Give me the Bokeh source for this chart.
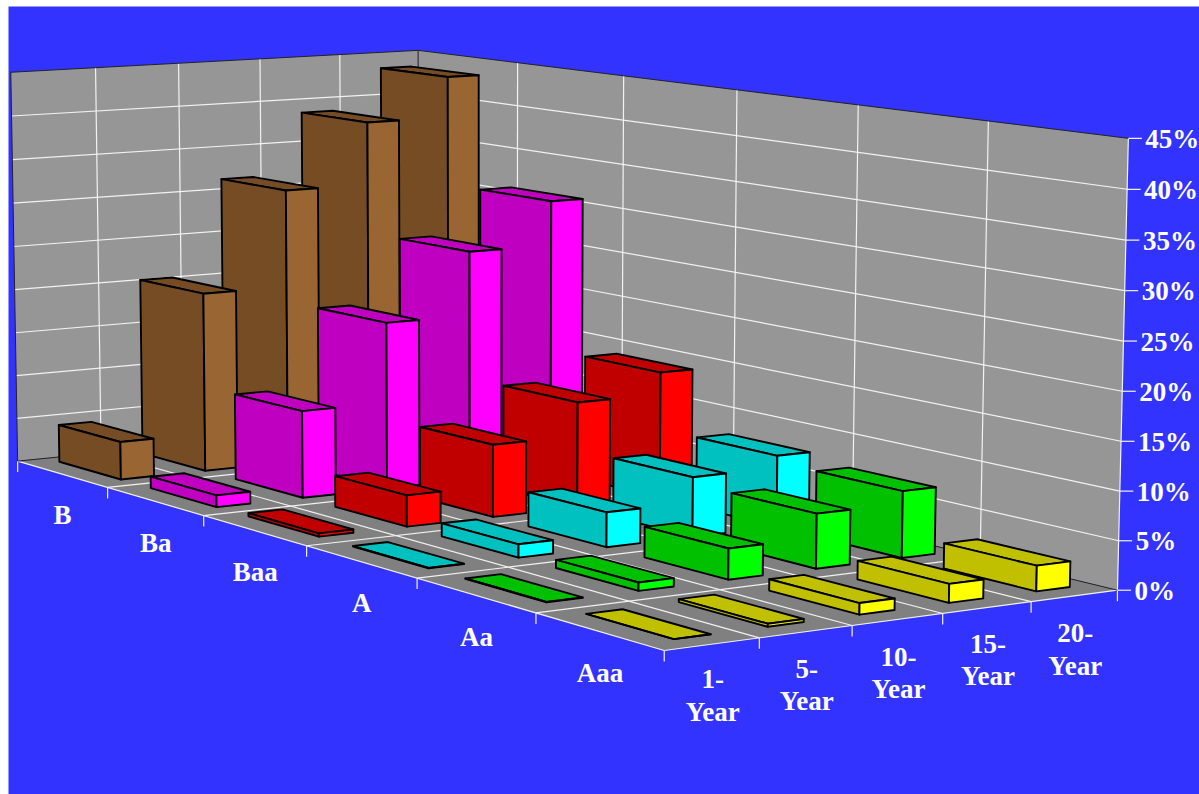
import numpy as np
from bokeh.core.properties import value
from bokeh.embed import file_html
from bokeh.models import Range1d
from bokeh.plotting import figure
from bokeh.resources import INLINE

# Chart data: cumulative default rate (%) by rating and horizon
ratings = ["B", "Ba", "Baa", "A", "Aa", "Aaa"]
horizons = ["1-", "5-", "10-", "15-", "20-"]
rate_B = [4.3, 20.4, 31.5, 38.7, 43.4]
rate_Ba = [1.3, 9.7, 18.7, 25.9, 30.9]
rate_Baa = [0.35, 3.4, 7.9, 11.6, 14.0]
rate_A = [0.05, 1.4, 3.7, 6.4, 7.7]
rate_Aa = [0.05, 0.85, 3.2, 5.7, 7.0]
rate_Aaa = [0.0, 0.3, 1.15, 1.9, 2.6]
rates = [rate_B, rate_Ba, rate_Baa, rate_A, rate_Aa, rate_Aaa]
pct_ticks = [0, 5, 10, 15, 20, 25, 30, 35, 40, 45]

front_colors = ["#754c24", "#c000c0", "#c00000", "#00c0c0", "#00c000", "#c0c000"]
side_colors = ["#996633", "#ff00ff", "#ff0000", "#00ffff", "#00ff00", "#ffff00"]

BLUE, WALL, FLOOR = "#3333ff", "#969696", "#808080"
U0, U1 = 0.14, 0.82     # bar extent inside a rating cell
W0, W1 = 0.35, 0.74     # bar extent inside a horizon cell
NU, NW, ZMAX = 6, 5, 45
YEAR_LABEL_NUDGE = [-2.5, -0.5, 0, -1.5, 0]

# Camera calibration: (rating pos, horizon pos, percent) -> page pixel
camera_refs = [
    (0, 0, 0, 17, 461.7), (1, 0, 0, 107, 487.7), (2, 0, 0, 204, 515.7),
    (3, 0, 0, 306.5, 545.7), (4, 0, 0, 416, 577.3), (5, 0, 0, 536, 611.7),
    (6, 0, 0, 663, 648), (6, 1, 0, 758.6, 637.3), (6, 2, 0, 851.4, 625.7),
    (6, 3, 0, 943, 613.3), (6, 4, 0, 1031, 601.7), (6, 5, 0, 1117, 590.7),
    (0, 5, 0, 418, 418), (0, 5, 45, 418, 51), (0, 0, 45, 10, 71),
    (6, 5, 45, 1128, 137), (6, 5, 25, 1122.5, 341), (6, 5, 10, 1119, 490.7),
]


def fit_camera(refs):
    rows = []
    for u, w, z, x, y in refs:
        X = [u, w, z, 1.0]
        rows.append(X + [0, 0, 0, 0] + [-x * c for c in X])
        rows.append([0, 0, 0, 0] + X + [-y * c for c in X])
    return np.linalg.svd(np.array(rows, float))[2][-1].reshape(3, 4)


CAM = fit_camera(camera_refs)


def proj(u, w, z):
    h = CAM @ np.array([u, w, z, 1.0])
    return float(h[0] / h[2]), float(h[1] / h[2])


def poly(corners):
    pts = [proj(*c) for c in corners]
    return [p[0] for p in pts], [p[1] for p in pts]


p = figure(width=1199, height=794, x_range=Range1d(0, 1199), y_range=Range1d(794, 0),
           output_backend="svg", toolbar_location=None, min_border=0,
           background_fill_color="white", border_fill_color="white", outline_line_color=None)
p.axis.visible = False
p.grid.visible = False

# Backdrop
p.quad(left=8, right=1199, top=6, bottom=794, fill_color=BLUE, line_color=None)

# Walls and floor
panels = [
    [(0, 0, 0), (0, 5, 0), (0, 5, ZMAX), (0, 0, ZMAX)],
    [(0, 5, 0), (6, 5, 0), (6, 5, ZMAX), (0, 5, ZMAX)],
]
fx, fy = zip(*[poly(c) for c in panels])
p.patches(list(fx), list(fy), fill_color=WALL, line_color=None)
fl_x, fl_y = poly([(0, 0, 0), (6, 0, 0), (6, 5, 0), (0, 5, 0)])
p.patch(fl_x, fl_y, fill_color=FLOOR, line_color=None)

# White grid lines and tick marks
gx, gy = [], []


def seg(a, b, store_x=gx, store_y=gy):
    x, y = poly([a, b])
    store_x.append(x)
    store_y.append(y)


for z in pct_ticks[1:-1]:
    seg((0, 0, z), (0, 5, z))
    seg((0, 5, z), (6, 5, z))
for w in range(1, NW):
    seg((0, w, 0), (0, w, ZMAX))
    seg((0, w, 0), (6, w, 0))
for u in range(1, NU):
    seg((u, 5, 0), (u, 5, ZMAX))
    seg((u, 0, 0), (u, 5, 0))
seg((0, 0, 0), (6, 0, 0))
seg((6, 0, 0), (6, 5, 0))
seg((6, 5, 0), (6, 5, ZMAX))
for z in pct_ticks:
    x, y = proj(6, 5, z)
    gx.append([x, x + 13.5])
    gy.append([y, y])
for u in range(NU + 1):
    x, y = proj(u, 0, 0)
    gx.append([x, x])
    gy.append([y, y + 11])
for w in range(1, NW + 1):
    x, y = proj(6, w, 0)
    gx.append([x, x])
    gy.append([y, y + 11])
p.multi_line(gx, gy, line_color="#f2f2f2", line_width=1.2)

# Dark outer edges of the walls
ex, ey = [], []
for a, b in [((0, 0, ZMAX), (0, 5, ZMAX)), ((0, 5, ZMAX), (6, 5, ZMAX)), ((0, 0, 0), (0, 5, 0)),
             ((0, 5, 0), (6, 5, 0)), ((0, 5, 0), (0, 5, ZMAX)), ((0, 0, 0), (0, 0, ZMAX))]:
    seg(a, b, ex, ey)
p.multi_line(ex, ey, line_color="#222222", line_width=1)

# Bars, painted from the far rating and far horizon towards the viewer
bx, by, bc = [], [], []
for i, row in enumerate(rates):
    for j in range(NW - 1, -1, -1):
        v = row[j]
        a, b, c, d = i + U0, i + U1, j + W0, j + W1
        faces = [
            ([(a, c, v), (b, c, v), (b, d, v), (a, d, v)], front_colors[i]),
            ([(a, c, 0), (b, c, 0), (b, c, v), (a, c, v)], front_colors[i]),
            ([(b, c, 0), (b, d, 0), (b, d, v), (b, c, v)], side_colors[i]),
        ]
        for corners, color in faces:
            x, y = poly(corners)
            bx.append(x)
            by.append(y)
            bc.append(color)
p.patches(bx, by, fill_color=bc, line_color="black", line_width=1.9, line_join="round")

# Labels
label_style = dict(text_color="white", text_font=value("Liberation Serif"),
                   text_font_style="bold", text_font_size="27px")

t_x, t_y, t_s = [], [], []
for z in pct_ticks:
    x, y = proj(6, 5, z)
    t_x.append(x + 17)
    t_y.append(y + 0.5)
    t_s.append(f"{z}%")
p.text(t_x, t_y, text=t_s, text_align="left", text_baseline="middle", **label_style)

c_x, c_y, c_s = [], [], []
for i, name in enumerate(ratings):
    x0, y0 = proj(i, 0, 0)
    x1, y1 = proj(i + 1, 0, 0)
    c_x.append((x0 + x1) / 2)
    c_y.append((y0 + y1) / 2 + 41)
    c_s.append(name)
for j, name in enumerate(horizons):
    x0, y0 = proj(6, j, 0)
    x1, y1 = proj(6, j + 1, 0)
    c_x += [(x0 + x1) / 2 + 1, (x0 + x1) / 2 + 1]
    c_y += [(y0 + y1) / 2 + 37.5 + YEAR_LABEL_NUDGE[j], (y0 + y1) / 2 + 70 + YEAR_LABEL_NUDGE[j]]
    c_s += [name, "Year"]
p.text(c_x, c_y, text=c_s, text_align="center", text_baseline="middle", **label_style)

open("out.html", "w").write(file_html(p, INLINE))
